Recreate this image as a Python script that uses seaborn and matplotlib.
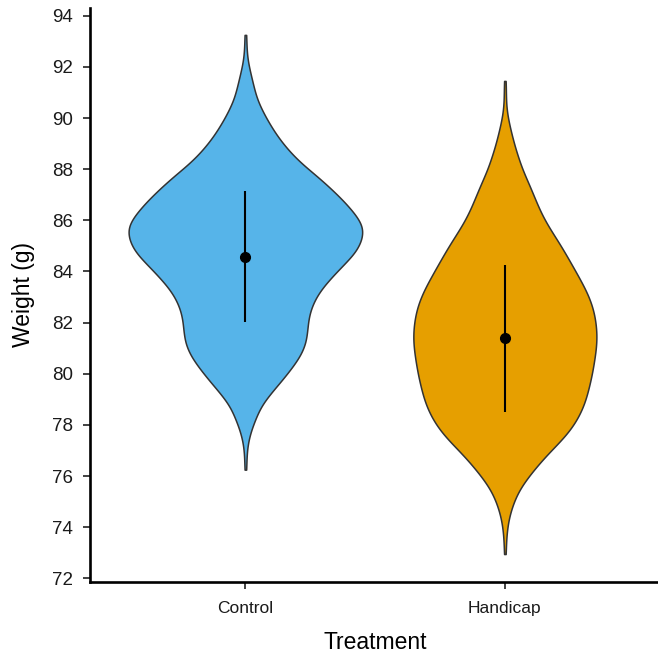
import numpy as np
import pandas as pd
import matplotlib
matplotlib.use("Agg")
import matplotlib.pyplot as plt
import seaborn as sns

# ---------------- data ----------------
treatments = ["Control", "Handicap"]
violin_colors = ["#56B4E9", "#E69F00"]

# frequency tables: weight value (g) and number of birds at that value
control_weight_bins = [76.25, 76.75, 77.25, 77.75, 78.25, 78.75, 79.25, 79.75,
                       80.25, 80.75, 81.25, 81.75, 82.25, 82.75, 83.25, 83.75,
                       84.25, 84.75, 85.25, 85.75, 86.25, 86.75, 87.25, 87.75,
                       88.25, 88.75, 89.25, 89.75, 90.25, 90.75, 91.25, 91.75,
                       92.25, 92.75, 93.25]
control_counts = [1, 1, 2, 5, 10, 15, 25, 36, 46, 55, 60, 61, 62, 66, 73, 84,
                  96, 109, 115, 117, 108, 97, 84, 70, 54, 42, 32, 24, 17, 11,
                  8, 5, 2, 1, 1]

handicap_weight_bins = [72.95, 73.45, 73.95, 74.45, 74.95, 75.45, 75.95, 76.45,
                        76.95, 77.45, 77.95, 78.45, 78.95, 79.45, 79.95, 80.45,
                        80.95, 81.45, 81.95, 82.45, 82.95, 83.45, 83.95, 84.45,
                        84.95, 85.45, 85.95, 86.45, 86.95, 87.45, 87.95, 88.45,
                        88.95, 89.45, 89.95, 90.45, 90.95, 91.45]
handicap_counts = [1, 1, 2, 4, 8, 13, 22, 32, 43, 56, 66, 73, 78, 81, 84, 86,
                   88, 89, 88, 86, 82, 76, 69, 62, 55, 47, 39, 33, 28, 23, 17,
                   13, 9, 6, 3, 1, 1, 1]

# summary shown on top of the violins: mean +/- SD
mean_weight = [84.58, 81.38]
sd_weight = [2.56, 2.87]

y_ticks = [72, 74, 76, 78, 80, 82, 84, 86, 88, 90, 92, 94]
x_title = "Treatment"
y_title = "Weight (g)"

# ---------------- long-form table ----------------
df = pd.DataFrame({
    "Treatment": (["Control"] * int(np.sum(control_counts))
                  + ["Handicap"] * int(np.sum(handicap_counts))),
    "Weight": np.concatenate([
        np.repeat(control_weight_bins, control_counts),
        np.repeat(handicap_weight_bins, handicap_counts),
    ]),
})

# ---------------- styling ----------------
sns.set_theme(style="ticks")
plt.rcParams["font.family"] = ["Liberation Sans", "DejaVu Sans"]

fig = plt.figure(figsize=(6.58, 6.58), dpi=100)
ax = fig.add_axes([0.1363, 0.1160, 0.8676, 0.8714])

sns.violinplot(
    data=df, x="Treatment", y="Weight", hue="Treatment",
    order=treatments, hue_order=treatments, palette=violin_colors,
    inner=None, cut=0, density_norm="area", common_norm=True, width=0.9,
    bw_method=0.13, gridsize=300, linewidth=1.1, linecolor="#333333",
    saturation=1, legend=False, ax=ax,
)

ax.errorbar(range(len(treatments)), mean_weight, yerr=sd_weight,
            fmt="o", color="black", ms=7, elinewidth=1.5, capsize=0,
            zorder=5)

ax.set_xlim(-0.6, 1.6)
ax.set_ylim(71.87, 94.29)
ax.set_yticks(y_ticks)
ax.set_yticklabels([str(t) for t in y_ticks])

for side in ["top", "right"]:
    ax.spines[side].set_visible(False)
for side in ["left", "bottom"]:
    ax.spines[side].set_linewidth(1.9)
    ax.spines[side].set_color("black")

ax.tick_params(axis="both", length=5, width=1.3, color="#333333")
ax.tick_params(axis="y", labelsize=13.5, pad=7, labelcolor="#1a1a1a")
ax.tick_params(axis="x", labelsize=12.5, pad=9, labelcolor="#1a1a1a")

ax.set_xlabel(x_title, fontsize=16.5, labelpad=11, color="black")
ax.set_ylabel(y_title, fontsize=16.5, labelpad=12, color="black")

fig.savefig("out.png", dpi=100)
